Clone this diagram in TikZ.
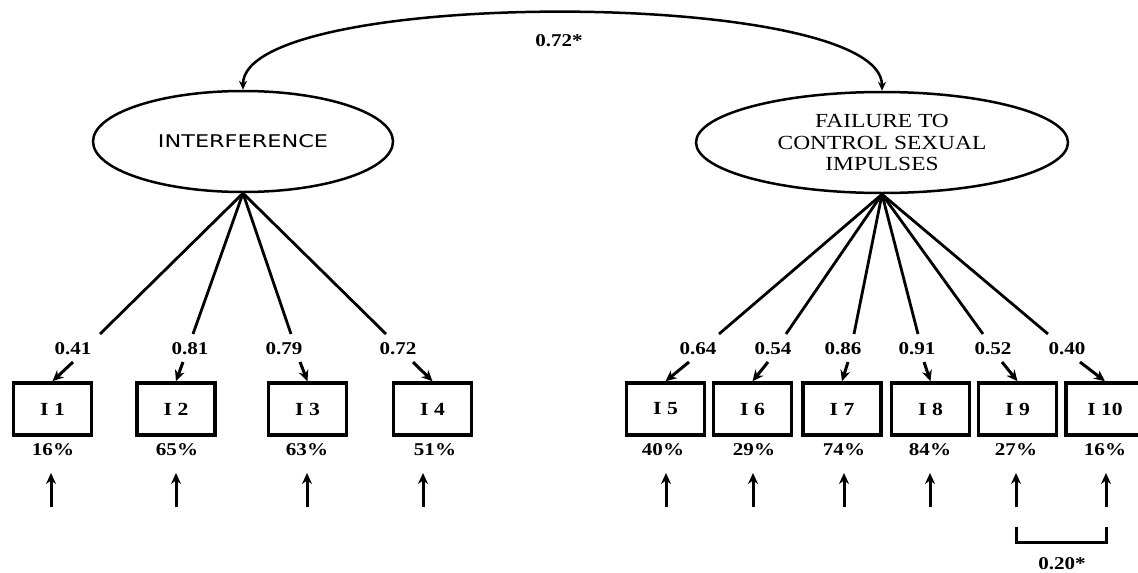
\documentclass[tikz,border=0pt]{standalone}
\usepackage{fontspec}
\setmainfont{Liberation Serif}[FakeStretch=1.17]
\newfontfamily\latsans{DejaVu Sans}[FakeStretch=1.28]
\usetikzlibrary{shapes.geometric,arrows.meta,calc}
\begin{document}
\begin{tikzpicture}[x=1pt,y=-1pt,
  lat/.style={ellipse, draw, line width=2.5pt, inner sep=0pt, minimum height=101pt},
  obs/.style={rectangle, draw, line width=3.5pt, minimum width=78pt, minimum height=52pt, inner sep=0pt, font=\bfseries\fontsize{18.5}{20}\selectfont},
  val/.style={font=\bfseries\fontsize{18}{20}\selectfont, inner sep=0pt},
  load/.style={line width=2.8pt},
  arr/.style={line width=3pt, -{Stealth[length=11pt,width=10pt]}},
  cov/.style={line width=2.5pt, {Stealth[length=9pt,width=8pt]}-{Stealth[length=9pt,width=8pt]}},
]
\useasboundingbox[fill=white] (0,0) rectangle (1138,573);

% latent variables
\node[lat, minimum width=300pt, font=\latsans\fontsize{17.5}{20}\selectfont] (L) at (243,141.5) {INTERFERENCE};
\node[lat, minimum width=372pt, align=center, font=\fontsize{20}{21.5}\selectfont] (R) at (882,142.5) {FAILURE TO\\CONTROL SEXUAL\\IMPULSES};

% covariance
\coordinate (cL) at ($(L.north)+(0,-103)$);
\coordinate (cR) at ($(R.north)+(0,-103)$);
\draw[cov] (L.north) .. controls (cL) and (cR) .. (R.north);
\node[val] (cv) at (559,41) {0.72*};

% observed variables
\node[obs] (b1) at (52.5,409) {I 1};
\node[obs] (b2) at (176,409) {I 2};
\node[obs] (b3) at (307.5,409) {I 3};
\node[obs] (b4) at (432.5,409) {I 4};
\node[obs] (b5) at (665.5,409) {I 5};
\node[obs] (b6) at (752.5,409) {I 6};
\node[obs] (b7) at (842,409) {I 7};
\node[obs] (b8) at (930.5,409) {I 8};
\node[obs] (b9) at (1017.5,409) {I 9};
\node[obs] (b10) at (1105,409) {I 10};

% loading labels
\node[val] (l1) at (73,349) {0.41};
\node[val] (l2) at (190,349) {0.81};
\node[val] (l3) at (284,349) {0.79};
\node[val] (l4) at (398,349) {0.72};
\node[val] (l5) at (698,349) {0.64};
\node[val] (l6) at (773,349) {0.54};
\node[val] (l7) at (843,349) {0.86};
\node[val] (l8) at (917,349) {0.91};
\node[val] (l9) at (993,349) {0.52};
\node[val] (l10) at (1067,349) {0.40};

% fan line ends
\coordinate (e1) at (100,334);
\coordinate (e2) at (193,334);
\coordinate (e3) at (291,334);
\coordinate (e4) at (386,334);
\coordinate (e5) at (719,334);
\coordinate (e6) at (786,334);
\coordinate (e7) at (854,334);
\coordinate (e8) at (918,334);
\coordinate (e9) at (983,334);
\coordinate (e10) at (1048,334);
\foreach \i in {1,...,4} {\draw[load] (L.south) -- (e\i);}
\foreach \i in {5,...,10} {\draw[load] (R.south) -- (e\i);}

% short arrows into boxes
\coordinate (s1) at (73,362);
\coordinate (s2) at (183,362);
\coordinate (s3) at (300,362);
\coordinate (s4) at (413,362);
\coordinate (s5) at (689,362);
\coordinate (s6) at (768,362);
\coordinate (s7) at (848,362);
\coordinate (s8) at (924,362);
\coordinate (s9) at (1002,362);
\coordinate (s10) at (1080,362);
\foreach \i in {1,...,10} {\draw[arr] (s\i) -- (b\i.north);}

% explained variance
\node[val] (p1) at (53,450) {16\%};
\node[val] (p2) at (177,450) {65\%};
\node[val] (p3) at (307,450) {63\%};
\node[val] (p4) at (435,450) {51\%};
\node[val] (p5) at (663,450) {40\%};
\node[val] (p6) at (754,450) {29\%};
\node[val] (p7) at (844,450) {74\%};
\node[val] (p8) at (930,450) {84\%};
\node[val] (p9) at (1016,450) {27\%};
\node[val] (p10) at (1105,450) {16\%};

% error arrows
\foreach \i/\x in {1/51,2/176,3/307,4/423,5/666,6/753,7/844,8/930,9/1016,10/1106} {
  \coordinate (u\i) at (\x,507);
  \coordinate (v\i) at (\x,473);
  \draw[arr] (u\i) -- (v\i);
}

% error covariance bracket
\coordinate (k1) at (1016,527);
\coordinate (k2) at (1016,542);
\coordinate (k3) at (1106,542);
\coordinate (k4) at (1106,527);
\draw[line width=3pt] (k1) -- (k2) -- (k3) -- (k4);
\node[val] (ec) at (1062,564) {0.20*};
\end{tikzpicture}
\end{document}
